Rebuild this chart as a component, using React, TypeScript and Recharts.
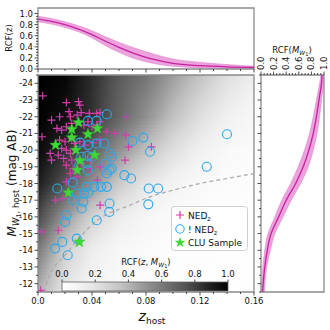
import React from 'react';
import { ComposedChart, Area, Line, Scatter, XAxis, YAxis, ReferenceArea } from 'recharts';

const FONT = '"DejaVu Sans", sans-serif';
const SPINE = '#8a8a8a';
const TICK = '#222';

// RCF(z) curve, top panel
const zSteps = [0, 0.01, 0.02, 0.03, 0.04, 0.05, 0.06, 0.07, 0.08, 0.09, 0.1, 0.12, 0.14, 0.16];
const rcfZ = [0.9, 0.86, 0.8, 0.72, 0.62, 0.5, 0.39, 0.29, 0.21, 0.15, 0.1, 0.06, 0.04, 0.03];
const rcfZLow = [0.85, 0.81, 0.75, 0.67, 0.56, 0.42, 0.3, 0.2, 0.13, 0.08, 0.05, 0.02, 0.01, 0.01];
const rcfZHigh = [0.95, 0.91, 0.85, 0.78, 0.69, 0.58, 0.48, 0.39, 0.31, 0.24, 0.18, 0.12, 0.08, 0.05];

// RCF(M) curve, right panel
const magSteps = [-24.5, -24, -23, -22, -21, -20, -19, -18, -17, -16, -15, -14, -13, -12, -11.5];
const rcfM = [0.97, 0.96, 0.92, 0.88, 0.83, 0.76, 0.67, 0.55, 0.4, 0.28, 0.16, 0.1, 0.06, 0.035, 0.025];
const rcfMLow = [0.95, 0.93, 0.88, 0.83, 0.77, 0.69, 0.59, 0.47, 0.33, 0.22, 0.11, 0.06, 0.03, 0.01, 0.0];
const rcfMHigh = [0.99, 0.99, 0.96, 0.93, 0.89, 0.83, 0.75, 0.63, 0.48, 0.35, 0.22, 0.15, 0.09, 0.065, 0.055];

// dashed magnitude limit
const limZ = [0.0045, 0.008, 0.012, 0.019, 0.03, 0.044, 0.068, 0.083, 0.1, 0.12, 0.14, 0.16];
const limM = [-11.5, -12.4, -13.0, -13.6, -14.7, -15.8, -16.7, -17.2, -17.6, -18.0, -18.3, -18.6];

// RCF(z, M) background, read on a coarse grid
const bgZ = [0, 0.02, 0.04, 0.06, 0.08, 0.1, 0.12, 0.14, 0.16];
const bgM = [-24.5, -22, -20, -18, -16, -14, -12, -11.5];
const bgLevel = [
  [1.0, 0.98, 0.85, 0.72, 0.62, 0.48, 0.35, 0.22, 0.14],
  [1.0, 0.95, 0.84, 0.68, 0.52, 0.36, 0.22, 0.12, 0.07],
  [0.97, 0.85, 0.7, 0.52, 0.36, 0.22, 0.12, 0.06, 0.03],
  [0.9, 0.74, 0.52, 0.32, 0.18, 0.1, 0.05, 0.03, 0.02],
  [0.78, 0.5, 0.28, 0.15, 0.08, 0.04, 0.02, 0.02, 0.01],
  [0.6, 0.3, 0.14, 0.07, 0.04, 0.02, 0.02, 0.01, 0.01],
  [0.45, 0.2, 0.09, 0.05, 0.03, 0.02, 0.01, 0.01, 0.01],
  [0.42, 0.18, 0.08, 0.04, 0.03, 0.02, 0.01, 0.01, 0.01],
];

// hosts with NED redshift
const nedZ: [number, number][] = [
  [0.0035, -23.25], [0.021, -22.85], [0.03, -22.9], [0.023, -22.3], [0.031, -22.7], [0.01, -21.8],
  [0.016, -22.0], [0.024, -22.0], [0.029, -22.1], [0.032, -22.25], [0.038, -22.2], [0.0435, -22.2],
  [0.046, -22.25], [0.065, -22.0], [0.014, -21.3], [0.0175, -21.2], [0.021, -21.4], [0.025, -21.6],
  [0.034, -21.5], [0.037, -21.7], [0.04, -21.4], [0.0435, -21.5], [0.046, -21.7], [0.051, -21.1],
  [0.057, -21.0], [0.065, -20.9], [0.003, -20.8], [0.016, -20.6], [0.02, -20.5], [0.025, -20.7],
  [0.027, -20.4], [0.031, -20.5], [0.035, -20.3], [0.041, -20.45], [0.046, -20.6], [0.0175, -20.1],
  [0.021, -20.0], [0.024, -19.8], [0.015, -19.7], [0.009, -19.8], [0.01, -19.4], [0.019, -19.5],
  [0.025, -19.4], [0.032, -19.2], [0.0385, -19.4], [0.021, -19.1], [0.026, -18.9], [0.0385, -18.9],
  [0.046, -19.0], [0.024, -18.6], [0.029, -18.4], [0.0645, -19.4], [0.067, -20.2], [0.084, -20.2],
  [0.044, -18.2], [0.021, -18.1], [0.013, -17.0], [0.0185, -17.1], [0.046, -16.7], [0.0025, -15.1],
  [0.015, -15.2], [0.002, -11.6],
];

// hosts without NED redshift
const noNedZ: [number, number][] = [
  [0.051, -22.15], [0.037, -21.75], [0.0435, -21.75], [0.031, -20.45], [0.037, -20.3], [0.0435, -20.4],
  [0.049, -20.4], [0.032, -19.6], [0.0365, -19.65], [0.04, -19.6], [0.053, -19.8], [0.0546, -19.6],
  [0.0365, -19.2], [0.05, -19.2], [0.0546, -18.9], [0.053, -18.8], [0.051, -18.6], [0.037, -18.8],
  [0.0306, -19.1], [0.07, -20.55], [0.078, -20.75], [0.083, -19.9], [0.064, -18.5], [0.069, -18.3],
  [0.0257, -18.05], [0.0143, -17.7], [0.036, -17.8], [0.0417, -17.8], [0.0467, -17.8], [0.051, -17.8],
  [0.034, -17.4], [0.0373, -17.45], [0.0287, -17.4], [0.026, -17.0], [0.082, -17.7], [0.089, -17.7],
  [0.0817, -16.75], [0.053, -16.8], [0.0336, -16.9], [0.14, -20.95], [0.125, -19.0], [0.0324, -16.5],
  [0.021, -16.1], [0.02, -15.7], [0.0528, -16.3], [0.0435, -15.8], [0.018, -14.5], [0.0126, -14.1],
  [0.022, -13.7], [0.0287, -14.7],
];

// CLU sample
const cluSample: [number, number][] = [
  [0.03, -21.65], [0.044, -21.3], [0.025, -21.25], [0.037, -20.95], [0.025, -20.75], [0.013, -20.3],
  [0.028, -20.0], [0.042, -19.7], [0.031, -19.37], [0.029, -18.8], [0.0225, -17.45], [0.0306, -14.5],
];

const zTicks = [0, 0.01, 0.02, 0.03, 0.04, 0.05, 0.06, 0.07, 0.08, 0.09, 0.1, 0.11, 0.12, 0.13, 0.14, 0.15, 0.16];
const magTicks = [-24.5, -24, -23.5, -23, -22.5, -22, -21.5, -21, -20.5, -20, -19.5, -19, -18.5, -18, -17.5, -17,
  -16.5, -16, -15.5, -15, -14.5, -14, -13.5, -13, -12.5, -12, -11.5];
const rcfTicks = [0, 0.05, 0.1, 0.15, 0.2, 0.25, 0.3, 0.35, 0.4, 0.45, 0.5, 0.55, 0.6, 0.65, 0.7, 0.75, 0.8,
  0.85, 0.9, 0.95, 1.0];
const cbarTicks = [0, 0.2, 0.4, 0.6, 0.8, 1.0];

const topData = zSteps.map((z, i) => ({ z, mid: rcfZ[i], band: [rcfZLow[i], rcfZHigh[i]] }));
const rightData = magSteps.map((M, i) => ({ M, mid: rcfM[i], band: [rcfMLow[i], rcfMHigh[i]] }));
const limData = limZ.map((z, i) => ({ z, M: limM[i] }));
const cbarData = cbarTicks.map((v) => ({ v, y: 0.5 }));
const toPts = (a: [number, number][]) => a.map(([z, M]) => ({ z, M }));

// matplotlib Greys
const GREYS = [255, 240, 217, 189, 150, 115, 82, 37, 0];
function grey(v: number) {
  const t = Math.max(0, Math.min(1, v)) * 8;
  const i = Math.min(7, Math.floor(t));
  const g = Math.round(GREYS[i] + (GREYS[i + 1] - GREYS[i]) * (t - i));
  return `rgb(${g},${g},${g})`;
}

const ROW = 0.2;
const stopZ = Array.from({ length: 33 }, (_, k) => k * 0.005);
const bgRows = Array.from({ length: Math.round(13 / ROW) }, (_, i) => {
  const m0 = -24.5 + i * ROW;
  const mc = m0 + ROW / 2;
  let j = 0;
  while (j < bgM.length - 2 && mc > bgM[j + 1]) j++;
  const t = (mc - bgM[j]) / (bgM[j + 1] - bgM[j]);
  const row = bgZ.map((_, k) => bgLevel[j][k] * (1 - t) + bgLevel[j + 1][k] * t);
  const stops = stopZ.map((z) => {
    let k = 0;
    while (k < bgZ.length - 2 && z > bgZ[k + 1]) k++;
    const u = (z - bgZ[k]) / (bgZ[k + 1] - bgZ[k]);
    return grey(row[k] * (1 - u) + row[k + 1] * u);
  });
  return { id: `bgrow${i}`, m0, m1: Math.min(-11.5, m0 + ROW + 0.05), stops };
});

const near = (v: number, step: number) => Math.abs(v / step - Math.round(v / step)) < 1e-6;

function starPath(cx: number, cy: number, R: number, r: number) {
  let d = '';
  for (let i = 0; i < 10; i++) {
    const a = -Math.PI / 2 + (i * Math.PI) / 5;
    const rad = i % 2 ? r : R;
    d += (i ? 'L' : 'M') + (cx + rad * Math.cos(a)).toFixed(2) + ',' + (cy + rad * Math.sin(a)).toFixed(2);
  }
  return d + 'Z';
}

const PLUS = '#d23cae';
const RING = '#2aa8ee';
const STAR = '#40d838';

const PlusShape = (p: any) => (
  <path d={`M${p.cx - 4},${p.cy}h8M${p.cx},${p.cy - 4}v8`} stroke={PLUS} strokeWidth={1.2} fill="none" />
);
const RingShape = (p: any) => (
  <circle cx={p.cx} cy={p.cy} r={4.5} stroke={RING} strokeWidth={1.1} fill="none" />
);
const StarShape = (p: any) => (
  <path d={starPath(p.cx, p.cy, 6, 2.5)} fill={STAR} stroke="#30b82a" strokeWidth={0.4} />
);

const txt = { fontFamily: FONT, fontSize: 8.5, fill: '#111' };

const bottomTick = (labels: boolean) => (props: any) => {
  const { x, y, payload } = props;
  const v = payload.value;
  const major = near(v, 0.04);
  return (
    <g>
      <line x1={x} x2={x} y1={y} y2={y + (major ? 3.5 : 2)} stroke={TICK} strokeWidth={0.8} />
      {labels && major && (
        <text x={x} y={y + 12} textAnchor="middle" {...txt}>
          {v === 0 ? '0.0' : v.toFixed(2)}
        </text>
      )}
    </g>
  );
};

const leftTick = (labels: boolean, step: number, fmt: (v: number) => string) => (props: any) => {
  const { x, y, payload } = props;
  const v = payload.value;
  const major = near(v, step);
  return (
    <g>
      <line x1={x} x2={x - (major ? 3.5 : 2)} y1={y} y2={y} stroke={TICK} strokeWidth={0.8} />
      {labels && major && (
        <text x={x - 5} y={y + 3} textAnchor="end" {...txt}>
          {fmt(v)}
        </text>
      )}
    </g>
  );
};

const topRotTick = (props: any) => {
  const { x, y, payload } = props;
  const v = payload.value;
  const major = near(v, 0.2);
  return (
    <g>
      <line x1={x} x2={x} y1={y} y2={y - (major ? 3.5 : 2)} stroke={TICK} strokeWidth={0.8} />
      {major && (
        <text transform={`translate(${x + 3},${y - 5}) rotate(-90)`} textAnchor="start" {...txt}>
          {v.toFixed(1)}
        </text>
      )}
    </g>
  );
};

const cbarTick = (props: any) => {
  const { x, y, payload } = props;
  return (
    <g>
      <line x1={x} x2={x} y1={y} y2={y - 2.5} stroke={TICK} strokeWidth={0.8} />
      <text x={x} y={y - 5} textAnchor="middle" {...txt}>
        {payload.value.toFixed(1)}
      </text>
    </g>
  );
};

const abs = (left: number, top: number): React.CSSProperties => ({ position: 'absolute', left, top });

export default function App() {
  return (
    <div style={{ position: 'absolute', left: 0, top: 0, width: 330, height: 330, background: '#fff', overflow: 'hidden' }}>
      {/* top panel: RCF(z) */}
      <div style={abs(0, 0)}>
        <ComposedChart width={260} height={80} data={topData} margin={{ top: 8, right: 6, left: 0, bottom: 0 }}>
          <XAxis type="number" dataKey="z" domain={[0, 0.16]} ticks={zTicks} interval={0} height={11}
            tickSize={0} tickMargin={0} tick={bottomTick(false)} axisLine={false} allowDataOverflow />
          <YAxis type="number" domain={[0, 1.1]} ticks={rcfTicks} interval={0} width={38}
            tickSize={0} tickMargin={0} tick={leftTick(true, 0.2, (v) => v.toFixed(1))} axisLine={false} allowDataOverflow />
          <Area type="monotone" dataKey="band" fill="#eba2dd" fillOpacity={1} stroke="#de86cc" strokeWidth={0.6}
            isAnimationActive={false} />
          <Line type="monotone" dataKey="mid" stroke="#c4229e" strokeWidth={1.3} dot={false} activeDot={false}
            isAnimationActive={false} />
          <ReferenceArea x1={0} x2={0.16} y1={0} y2={1.1} fill="none" stroke={SPINE} strokeWidth={1.3} />
        </ComposedChart>
      </div>

      {/* main panel */}
      <div style={abs(0, 0)}>
        <ComposedChart width={275} height={330} margin={{ top: 75, right: 21, left: 0, bottom: 0 }}>
          <defs>
            {bgRows.map((r) => (
              <linearGradient key={r.id} id={r.id} x1="0" y1="0" x2="1" y2="0">
                {r.stops.map((c, k) => (
                  <stop key={k} offset={k / (stopZ.length - 1)} stopColor={c} />
                ))}
              </linearGradient>
            ))}
          </defs>
          <XAxis type="number" dataKey="z" domain={[0, 0.16]} ticks={zTicks} interval={0} height={38}
            tickSize={0} tickMargin={0} tick={bottomTick(true)} axisLine={false} allowDataOverflow />
          <YAxis type="number" dataKey="M" domain={[-24.5, -11.5]} reversed ticks={magTicks} interval={0} width={38}
            tickSize={0} tickMargin={0} tick={leftTick(true, 1, (v) => String(v))} axisLine={false} allowDataOverflow />
          {bgRows.map((r) => (
            <ReferenceArea key={r.id} x1={0} x2={0.16} y1={r.m0} y2={r.m1} fill={`url(#${r.id})`} fillOpacity={1}
              stroke="none" />
          ))}
          <Line data={limData} type="monotone" dataKey="M" stroke="#aaaaaa" strokeWidth={1.2} strokeDasharray="4 3"
            dot={false} activeDot={false} isAnimationActive={false} />
          <Scatter data={toPts(nedZ)} shape={PlusShape} isAnimationActive={false} />
          <Scatter data={toPts(noNedZ)} shape={RingShape} isAnimationActive={false} />
          <Scatter data={toPts(cluSample)} shape={StarShape} isAnimationActive={false} />
          <ReferenceArea x1={0} x2={0.16} y1={-24.5} y2={-11.5} fill="none" stroke={SPINE} strokeWidth={1.3} />
        </ComposedChart>
      </div>

      {/* inset colorbar */}
      <div style={abs(40, 260)}>
        <ComposedChart width={200} height={35} data={cbarData} margin={{ top: 0, right: 12, left: 22, bottom: 4 }}>
          <defs>
            <linearGradient id="cbar" x1="0" y1="0" x2="1" y2="0">
              {rcfTicks.map((v) => (
                <stop key={v} offset={v} stopColor={grey(v)} />
              ))}
            </linearGradient>
          </defs>
          <XAxis type="number" dataKey="v" orientation="top" domain={[0, 1]} ticks={cbarTicks} interval={0} height={22}
            tickSize={0} tickMargin={0} tick={cbarTick} axisLine={false} allowDataOverflow />
          <YAxis type="number" domain={[0, 1]} hide />
          <Line dataKey="y" stroke="none" dot={false} activeDot={false} isAnimationActive={false} />
          <ReferenceArea x1={0} x2={1} y1={0} y2={1} fill="url(#cbar)" fillOpacity={1} stroke="#666" strokeWidth={0.8} />
        </ComposedChart>
      </div>

      {/* right panel: RCF(M) */}
      <div style={abs(255, 0)}>
        <ComposedChart layout="vertical" width={75} height={330} data={rightData}
          margin={{ top: 0, right: 6, left: 0, bottom: 38 }}>
          <XAxis type="number" orientation="top" domain={[0, 1]} ticks={rcfTicks} interval={0} height={75}
            tickSize={0} tickMargin={0} tick={topRotTick} axisLine={false} allowDataOverflow />
          <YAxis type="number" dataKey="M" domain={[-24.5, -11.5]} ticks={magTicks} interval={0} width={6}
            tickSize={0} tickMargin={0} tick={leftTick(false, 1, String)} axisLine={false} allowDataOverflow />
          <Area type="monotone" dataKey="band" fill="#eba2dd" fillOpacity={1} stroke="#de86cc" strokeWidth={0.6}
            isAnimationActive={false} />
          <Line type="monotone" dataKey="mid" stroke="#c4229e" strokeWidth={1.3} dot={false} activeDot={false}
            isAnimationActive={false} />
          <ReferenceArea x1={0} x2={1} y1={-24.5} y2={-11.5} fill="none" stroke={SPINE} strokeWidth={1.3} />
        </ComposedChart>
      </div>

      {/* titles */}
      <svg width={330} height={330} style={{ ...abs(0, 0), pointerEvents: 'none' }}>
        <text transform="translate(12,38) rotate(-90)" textAnchor="middle" {...txt}>RCF(z)</text>
        <text transform="translate(16,183) rotate(-90)" textAnchor="middle" fontFamily={FONT} fontSize={12} fill="#111">
          <tspan fontStyle="italic">M</tspan>
          <tspan fontSize={8.5} dy={3} fontStyle="italic">W</tspan>
          <tspan fontSize={6.5} dy={1.5}>1</tspan>
          <tspan fontSize={8.5} dy={-1.5}>, host</tspan>
          <tspan dy={-3}> (mag AB)</tspan>
        </text>
        <text x={152} y={321} textAnchor="middle" fontFamily={FONT} fontSize={14} fill="#111">
          <tspan fontStyle="italic">z</tspan>
          <tspan fontSize={9} dy={3}>host</tspan>
        </text>
        <text x={292} y={53} textAnchor="middle" {...txt}>
          RCF(<tspan fontStyle="italic">M</tspan>
          <tspan fontSize={6} dy={2} fontStyle="italic">W</tspan>
          <tspan fontSize={5} dy={1}>1</tspan>
          <tspan dy={-3}>)</tspan>
        </text>
        <text x={146} y={265} textAnchor="middle" {...txt}>
          RCF(<tspan fontStyle="italic">z</tspan>, <tspan fontStyle="italic">M</tspan>
          <tspan fontSize={6} dy={2} fontStyle="italic">W</tspan>
          <tspan fontSize={5} dy={1}>1</tspan>
          <tspan dy={-3}>)</tspan>
        </text>
      </svg>

      {/* legend */}
      <svg width={77} height={45} style={abs(171, 206)}>
        <rect x={0.5} y={0.5} width={76} height={44} rx={3} fill="#fff" fillOpacity={0.85} stroke="#cfcfcf" />
        <path d="M5,9h8M9,5v8" stroke={PLUS} strokeWidth={1.2} />
        <circle cx={9} cy={23} r={4.2} stroke={RING} strokeWidth={1.1} fill="none" />
        <path d={starPath(9, 36.5, 5.5, 2.3)} fill={STAR} />
        <text x={17} y={12.5} fontFamily={FONT} fontSize={9} fill="#111">
          NED<tspan fontSize={6.5} dy={2}>z</tspan>
        </text>
        <text x={17} y={26.5} fontFamily={FONT} fontSize={9} fill="#111">
          ! NED<tspan fontSize={6.5} dy={2}>z</tspan>
        </text>
        <text x={17} y={40} fontFamily={FONT} fontSize={9} fill="#111">CLU Sample</text>
      </svg>
    </div>
  );
}
